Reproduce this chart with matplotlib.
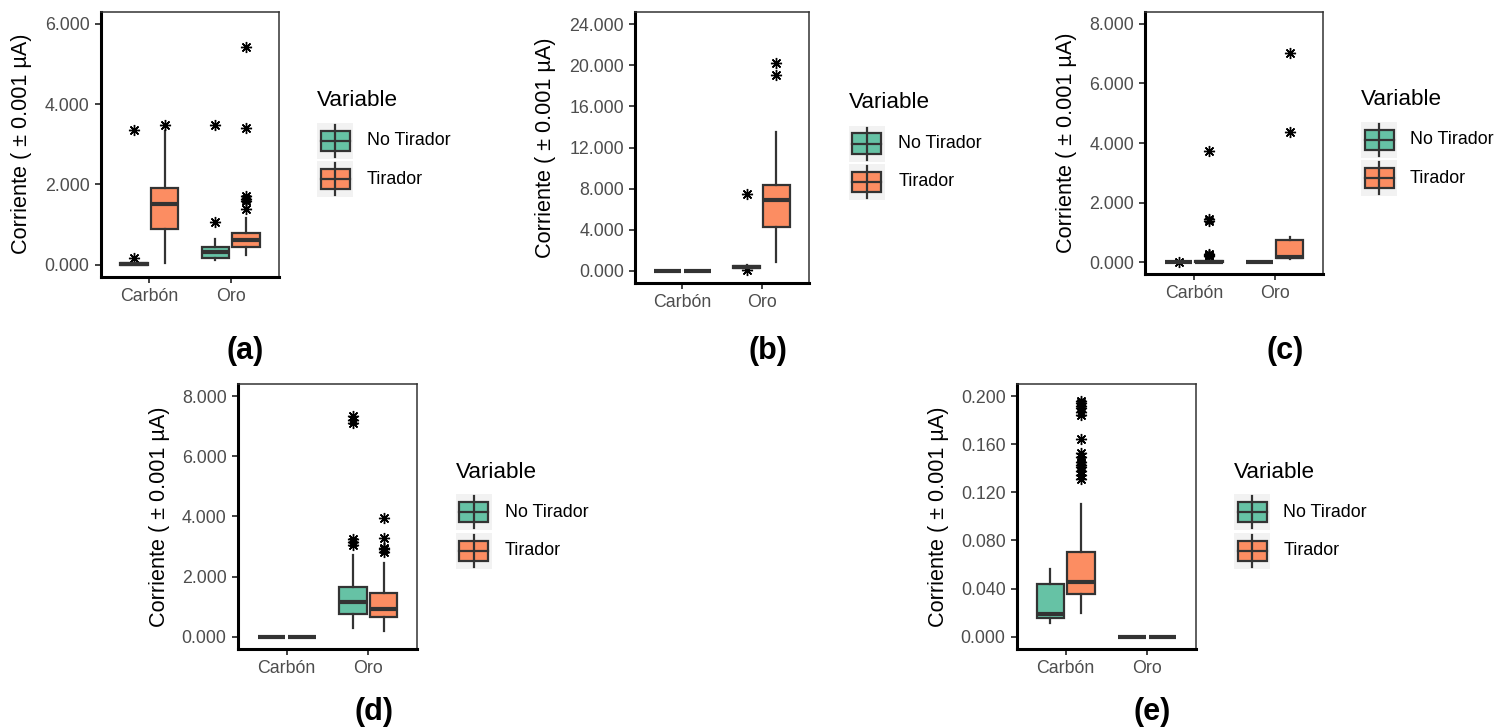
import matplotlib
matplotlib.use("Agg")
import matplotlib.pyplot as plt
from matplotlib.patches import Rectangle
from matplotlib.lines import Line2D

W, H = 1496, 727
plt.rcParams['font.family'] = ['Liberation Sans', 'DejaVu Sans']

categories = ["Carbón", "Oro"]
groups = ["No Tirador", "Tirador"]
group_colors = ["#66C2A5", "#FC8D62"]
panel_tags = ["(a)", "(b)", "(c)", "(d)", "(e)"]
y_label = "Corriente ( \u00b1 0.001 \u00b5A)"
legend_title = "Variable"

# order in each list: Carbón-No Tirador, Carbón-Tirador, Oro-No Tirador, Oro-Tirador
a_q1 = [0.00, 0.90, 0.17, 0.44]
a_med = [0.01, 1.52, 0.32, 0.61]
a_q3 = [0.03, 1.91, 0.43, 0.80]
a_lo = [0.00, 0.03, 0.11, 0.24]
a_hi = [0.05, 3.34, 0.64, 1.17]
a_out = [[0.17, 3.35], [3.48], [1.05, 3.47], [1.38, 1.58, 1.63, 1.70, 3.40, 5.43]]

b_q1 = [0.00, 0.00, 0.27, 4.28]
b_med = [0.00, 0.00, 0.36, 6.84]
b_q3 = [0.00, 0.00, 0.45, 8.30]
b_lo = [0.00, 0.00, 0.22, 0.84]
b_hi = [0.00, 0.00, 0.52, 13.48]
b_out = [[], [], [0.03, 7.46], [19.03, 20.26]]

c_q1 = [0.00, 0.00, 0.00, 0.13]
c_med = [0.00, 0.02, 0.00, 0.18]
c_q3 = [0.00, 0.04, 0.00, 0.74]
c_lo = [0.00, 0.00, 0.00, 0.10]
c_hi = [0.00, 0.08, 0.00, 0.85]
c_out = [[0.00], [0.20, 0.24, 0.27, 1.40, 1.46, 3.74], [], [4.38, 7.01]]

d_q1 = [0.00, 0.00, 0.74, 0.64]
d_med = [0.00, 0.00, 1.14, 0.91]
d_q3 = [0.00, 0.00, 1.66, 1.45]
d_lo = [0.00, 0.00, 0.28, 0.20]
d_hi = [0.00, 0.00, 2.70, 2.46]
d_out = [[], [], [3.04, 3.15, 3.26, 7.10, 7.20, 7.33], [2.83, 2.90, 2.96, 3.28, 3.93]]

e_q1 = [0.0157, 0.0354, 0.0, 0.0]
e_med = [0.0185, 0.0456, 0.0, 0.0]
e_q3 = [0.0436, 0.0704, 0.0, 0.0]
e_lo = [0.011, 0.020, 0.0, 0.0]
e_hi = [0.056, 0.110, 0.0, 0.0]
e_out = [[], [0.131, 0.134, 0.138, 0.141, 0.143, 0.145, 0.149, 0.153, 0.164,
              0.184, 0.187, 0.190, 0.192, 0.194, 0.196], [], []]

panel_data = [
    (a_q1, a_med, a_q3, a_lo, a_hi, a_out),
    (b_q1, b_med, b_q3, b_lo, b_hi, b_out),
    (c_q1, c_med, c_q3, c_lo, c_hi, c_out),
    (d_q1, d_med, d_q3, d_lo, d_hi, d_out),
    (e_q1, e_med, e_q3, e_lo, e_hi, e_out),
]
y_max = [6, 24, 8, 8, 0.2]
y_step = [2, 4, 2, 2, 0.04]

# layout (pixels, y from top)
axes_px = [(100.7, 11.7, 279.3, 276.7), (635, 12, 809, 283), (1145.3, 11.7, 1323, 274.3),
           (237.7, 384, 417.3, 648.7), (1016.7, 384, 1196, 648.7)]
ylab_x = [21.7, 545, 1066.7, 159, 938.3]
legend_px = [(317, 100, 122.7, 366.7), (848.5, 102.7, 125.5, 898.3), (1361, 99.3, 121.7, 1410),
             (455.5, 472.3, 494.3, 505), (1234.3, 472.3, 494.3, 1283.3)]
tag_px = [(245, 351), (768, 351), (1285, 351), (374, 712), (1152, 712)]

fig = plt.figure(figsize=(W / 100, H / 100), dpi=100)

def fx(x):
    return x / W

def fy(y):
    return 1 - y / H

edge = "#333333"
offsets = [-0.1875, 0.1875]
bw = 0.3375

for p in range(5):
    x0, y0, x1, y1 = axes_px[p]
    ax = fig.add_axes([fx(x0), fy(y1), (x1 - x0) / W, (y1 - y0) / H])
    q1, med, q3, lo, hi, out = panel_data[p]
    for k in range(4):
        ci, gi = divmod(k, 2)
        st = [dict(q1=q1[k], med=med[k], q3=q3[k], whislo=lo[k], whishi=hi[k], fliers=out[k])]
        ax.bxp(st, positions=[ci + 1 + offsets[gi]], widths=bw, patch_artist=True,
               showcaps=False,
               boxprops=dict(facecolor=group_colors[gi], edgecolor=edge, linewidth=1.6),
               medianprops=dict(color=edge, linewidth=3.0, solid_capstyle='butt'),
               whiskerprops=dict(color=edge, linewidth=1.6),
               flierprops=dict(marker=(8, 2, 0), markersize=8, markeredgecolor='black',
                               markerfacecolor='black', markeredgewidth=1.0, linestyle='none'),
               manage_ticks=False, zorder=3)
    ym = y_max[p]
    ax.set_ylim(-0.05 * ym, 1.05 * ym)
    ax.set_xlim(0.4, 2.6)
    n = int(round(ym / y_step[p]))
    ticks = [i * y_step[p] for i in range(n + 1)]
    ax.set_yticks(ticks)
    ax.set_yticklabels([f"{t:.3f}" for t in ticks])
    ax.set_xticks([1, 2])
    ax.set_xticklabels(categories)
    ax.tick_params(axis='both', labelsize=12.8, labelcolor="#4D4D4D", color="#333333",
                   length=4.5, width=1.3, pad=3.5)
    for s in ['top', 'right']:
        ax.spines[s].set_color("#333333")
        ax.spines[s].set_linewidth(1.1)
    for s in ['left', 'bottom']:
        ax.spines[s].set_color("black")
        ax.spines[s].set_linewidth(2.2)
    ax.set_facecolor("white")
    fig.text(fx(ylab_x[p]), fy((y0 + y1) / 2), y_label, rotation=90, ha='center', va='center',
             fontsize=15.6, color='black')

    # legend
    lx, ty, ktop, tx = legend_px[p]
    fig.text(fx(lx), fy(ty), legend_title, ha='left', va='center', fontsize=16.2, color='black')
    ks = 36.0
    gap = 2.5
    for gi in range(2):
        kt = ktop + gi * (ks + gap)
        fig.add_artist(Rectangle((fx(lx), fy(kt + ks)), ks / W, ks / H, transform=fig.transFigure,
                                 facecolor="#F2F2F2", edgecolor='none'))
        cx = lx + ks / 2
        fig.add_artist(Line2D([fx(cx), fx(cx)], [fy(kt + 2), fy(kt + ks - 2)], transform=fig.transFigure,
                              color=edge, linewidth=1.6))
        bx0, bx1 = lx + 3.5, lx + ks - 3.5
        by0, by1 = kt + ks * 0.22, kt + ks * 0.78
        fig.add_artist(Rectangle((fx(bx0), fy(by1)), (bx1 - bx0) / W, (by1 - by0) / H,
                                 transform=fig.transFigure, facecolor=group_colors[gi],
                                 edgecolor=edge, linewidth=1.6))
        fig.add_artist(Line2D([fx(bx0), fx(bx1)], [fy(kt + ks / 2)] * 2, transform=fig.transFigure,
                              color=edge, linewidth=1.6))
        fig.text(fx(tx), fy(kt + ks / 2), groups[gi], ha='left', va='center', fontsize=12.9,
                 color='black')

    fig.text(fx(tag_px[p][0]), fy(tag_px[p][1]), panel_tags[p], ha='center', va='center',
             fontsize=22, fontweight='bold', color='black')

fig.savefig("out.png", dpi=100, facecolor='white')
